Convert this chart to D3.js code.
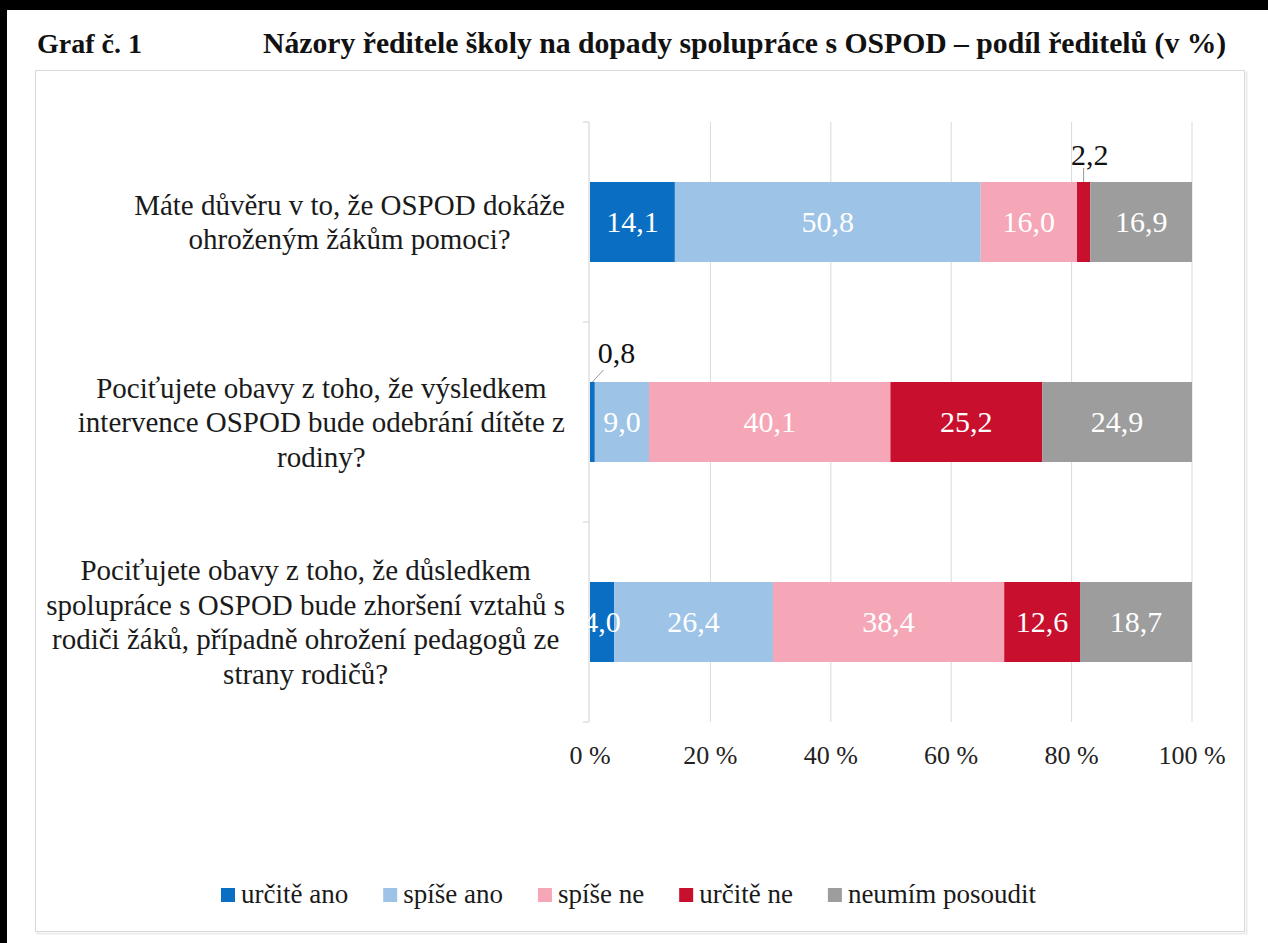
<!DOCTYPE html>
<html>
<head>
<meta charset="utf-8">
<script src="https://cdn.jsdelivr.net/npm/d3@7"></script>
<style>
  body { margin: 0; background: #fff; }
  svg { display: block; }
</style>
</head>
<body>
<div id="chart"></div>
<script>
// data
const questions = [
    ['Máte důvěru v to, že OSPOD dokáže', 'ohroženým žákům pomoci?'],
    ['Pociťujete obavy z toho, že výsledkem', 'intervence OSPOD bude odebrání dítěte z', 'rodiny?'],
    ['Pociťujete obavy z toho, že důsledkem', 'spolupráce s OSPOD bude zhoršení vztahů s', 'rodiči žáků, případně ohrožení pedagogů ze', 'strany rodičů?']
];
const seriesNames = ['určitě ano', 'spíše ano', 'spíše ne', 'určitě ne', 'neumím posoudit'];
const urciteAno = [14.1, 0.8, 4.0];
const spiseAno = [50.8, 9.0, 26.4];
const spiseNe = [16.0, 40.1, 38.4];
const urciteNe = [2.2, 25.2, 12.6];
const neumim = [16.9, 24.9, 18.7];
const tickValues = [0, 0.2, 0.4, 0.6, 0.8, 1];
const colors = ['#0a6fc2', '#9dc3e6', '#f5a7b7', '#c8102e', '#9d9d9d'];

const FONT = "'Liberation Serif', 'Times New Roman', Times, serif";
const W = 1268, H = 943;
const svg = d3.select('#chart').append('svg')
    .attr('width', W)
    .attr('height', H)
    .style('font-family', FONT);

// dark edges of the screenshot
svg.append('rect').attr('x', 0).attr('y', 0).attr('width', W).attr('height', 10).attr('fill', '#000');
svg.append('rect').attr('x', 0).attr('y', 0).attr('width', 7).attr('height', H).attr('fill', '#000');

// title
svg.append('text').attr('x', 37).attr('y', 53)
    .attr('font-size', 28).attr('font-weight', 'bold').attr('fill', '#111')
    .text('Graf č. 1');
svg.append('text').attr('x', 263).attr('y', 53)
    .attr('font-size', 29.7).attr('font-weight', 'bold').attr('fill', '#111')
    .text('Názory ředitele školy na dopady spolupráce s OSPOD – podíl ředitelů (v %)');

// chart frame
svg.append('rect').attr('x', 37.5).attr('y', 72.5).attr('width', 1209).attr('height', 861)
    .attr('fill', 'none').attr('stroke', '#ececec').attr('stroke-width', 2);
svg.append('rect').attr('x', 35.5).attr('y', 70.5).attr('width', 1209).attr('height', 861)
    .attr('fill', '#fff').attr('stroke', '#d9d9d9');

const x = d3.scaleLinear().domain([0, 1]).range([590, 1192]);
const y = d3.scaleBand()
    .domain(d3.range(questions.length))
    .range([122, 722])
    .paddingInner(0.6)
    .paddingOuter(0.3);

// gridlines
svg.append('g').selectAll('line')
    .data(tickValues.slice(1))
    .join('line')
    .attr('x1', d => x(d)).attr('x2', d => x(d))
    .attr('y1', 122).attr('y2', 722)
    .attr('stroke', '#d9d9d9');

// category axis line + ticks
svg.append('line').attr('x1', 589).attr('x2', 589).attr('y1', 122).attr('y2', 722)
    .attr('stroke', '#d0d0d0');
svg.append('g').selectAll('line')
    .data(d3.range(questions.length + 1))
    .join('line')
    .attr('x1', 583).attr('x2', 589)
    .attr('y1', d => 122 + d * y.step()).attr('y2', d => 122 + d * y.step())
    .attr('stroke', '#d0d0d0');

// x axis labels
svg.append('g').selectAll('text')
    .data(tickValues)
    .join('text')
    .attr('x', d => x(d))
    .attr('y', 764)
    .attr('text-anchor', 'middle')
    .attr('font-size', 26)
    .attr('fill', '#222')
    .text(d => Math.round(d * 100) + ' %');

// category labels: block right-aligned near the axis, lines centred in the block
questions.forEach((lines, i) => {
    const cy = y(i) + y.bandwidth() / 2;
    const txt = svg.append('text')
        .attr('text-anchor', 'middle')
        .attr('font-size', 29)
        .attr('fill', '#1a1a1a');
    const spans = txt.selectAll('tspan')
        .data(lines)
        .join('tspan')
        .attr('y', (d, j) => cy + (j - (lines.length - 1) / 2) * 34.5 + 10)
        .text(d => d);
    let maxW = 0;
    spans.each(function () { maxW = Math.max(maxW, this.getComputedTextLength()); });
    spans.attr('x', 565 - maxW / 2);
});

// stacked bars
const allSeries = [urciteAno, spiseAno, spiseNe, urciteNe, neumim];
const rows = questions.map((q, i) => {
    const r = { idx: i };
    seriesNames.forEach((s, k) => r[s] = allSeries[k][i] / 100);
    return r;
});
const stack = d3.stack().keys(seriesNames)(rows);

const layer = svg.append('g').selectAll('g')
    .data(stack)
    .join('g')
    .attr('fill', (d, k) => colors[k]);

layer.selectAll('rect')
    .data(d => d)
    .join('rect')
    .attr('x', d => x(d[0]))
    .attr('width', d => x(Math.min(d[1], 1)) - x(d[0]))
    .attr('y', d => y(d.data.idx))
    .attr('height', y.bandwidth());

// value labels
stack.forEach((s, k) => {
    s.forEach(d => {
        const v = allSeries[k][d.data.idx];
        const cx = (x(d[0]) + x(Math.min(d[1], 1))) / 2;
        const top = y(d.data.idx);
        const lbl = v.toFixed(1).replace('.', ',');
        if (v < 3) {
            // small segment: label above with leader line
            if (d[0] === 0) {
                svg.append('line').attr('x1', cx).attr('y1', top)
                    .attr('x2', cx + 11).attr('y2', top - 12)
                    .attr('stroke', '#999');
                svg.append('text').attr('x', cx + 24).attr('y', top - 19)
                    .attr('text-anchor', 'middle').attr('font-size', 30).attr('fill', '#111')
                    .text(lbl);
            } else {
                svg.append('line').attr('x1', cx).attr('y1', top)
                    .attr('x2', cx).attr('y2', top - 14)
                    .attr('stroke', '#999');
                svg.append('text').attr('x', cx + 6).attr('y', top - 17)
                    .attr('text-anchor', 'middle').attr('font-size', 30).attr('fill', '#111')
                    .text(lbl);
            }
        } else {
            svg.append('text').attr('x', cx).attr('y', top + y.bandwidth() / 2 + 10)
                .attr('text-anchor', 'middle').attr('font-size', 30).attr('fill', '#fff')
                .text(lbl);
        }
    });
});

// legend
const legend = svg.append('g').attr('transform', 'translate(221,903)');
let lx = 0;
seriesNames.forEach((name, k) => {
    const g = legend.append('g').attr('transform', 'translate(' + lx + ',0)');
    g.append('rect').attr('x', 0).attr('y', -15).attr('width', 14).attr('height', 14)
        .attr('fill', colors[k]);
    const t = g.append('text').attr('x', 20).attr('y', 0)
        .attr('font-size', 27).attr('fill', '#1a1a1a')
        .text(name);
    lx += 20 + t.node().getComputedTextLength() + 35;
});
</script>
</body>
</html>
